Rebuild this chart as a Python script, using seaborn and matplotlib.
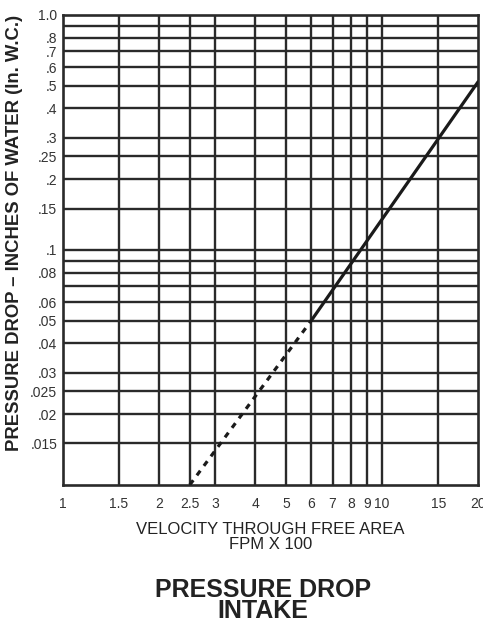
import numpy as np
import pandas as pd
import matplotlib.pyplot as plt
import seaborn as sns

# values
x_ticks = [1, 1.5, 2, 2.5, 3, 4, 5, 6, 7, 8, 9, 10, 15, 20]
x_labels = ["1", "1.5", "2", "2.5", "3", "4", "5", "6", "7", "8", "9", "10", "15", "20"]
y_grid = [0.015, 0.02, 0.025, 0.03, 0.04, 0.05, 0.06, 0.07, 0.08, 0.09, 0.1,
          0.15, 0.2, 0.25, 0.3, 0.4, 0.5, 0.6, 0.7, 0.8, 0.9, 1.0]
y_labels = {0.015: ".015", 0.02: ".02", 0.025: ".025", 0.03: ".03", 0.04: ".04",
            0.05: ".05", 0.06: ".06", 0.08: ".08", 0.1: ".1", 0.15: ".15",
            0.2: ".2", 0.25: ".25", 0.3: ".3", 0.4: ".4", 0.5: ".5", 0.6: ".6",
            0.7: ".7", 0.8: ".8", 1.0: "1.0"}

# extrapolated (dashed) part and measured (solid) part of the curve
dash_x = [2.5, 6]
dash_y = [0.01, 0.05]
solid_x = [6, 20]
solid_y = [0.05, 0.52]

sns.set_style("white")
plt.rcParams['font.family'] = ['Liberation Sans', 'DejaVu Sans']

fig = plt.figure(figsize=(4.83, 6.24), dpi=100)
ax = fig.add_axes([0.130, 0.223, 0.860, 0.753])

df_dash = pd.DataFrame({"v": dash_x, "p": dash_y})
df_solid = pd.DataFrame({"v": solid_x, "p": solid_y})
sns.lineplot(data=df_dash, x="v", y="p", ax=ax, color="#1a1a1a", lw=2.3,
             linestyle=(0, (1.8, 1.9)), zorder=3)
sns.lineplot(data=df_solid, x="v", y="p", ax=ax, color="#1a1a1a", lw=2.3, zorder=3)

ax.set_xscale("log")
ax.set_yscale("log")
ax.set_xlim(1, 20)
ax.set_ylim(0.01, 1.0)

for xv in x_ticks[1:-1]:
    ax.axvline(xv, color="#2a2a2a", lw=1.7, zorder=1)
for yv in y_grid[:-1]:
    ax.axhline(yv, color="#2a2a2a", lw=1.7, zorder=1)

ax.xaxis.set_minor_locator(plt.NullLocator())
ax.yaxis.set_minor_locator(plt.NullLocator())
ax.set_xticks(x_ticks)
ax.set_xticklabels(x_labels)
ax.set_yticks(list(y_labels.keys()))
ax.set_yticklabels(list(y_labels.values()))
ax.tick_params(axis="both", length=0, labelsize=10, colors="#333333")
ax.tick_params(axis="x", pad=9)
ax.tick_params(axis="y", pad=4)

for s in ax.spines.values():
    s.set_color("#2a2a2a")
    s.set_linewidth(1.9)

ax.set_xlabel("VELOCITY THROUGH FREE AREA\nFPM X 100", fontsize=12, color="#222222",
              linespacing=1.0, labelpad=8)
ax.set_ylabel("PRESSURE DROP – INCHES OF WATER (In. W.C.)", fontsize=13.3,
              fontweight="bold", color="#222222")
ax.yaxis.set_label_coords(-0.095, 0.537)

fig.text(0.545, 0.002, "PRESSURE DROP\nINTAKE", ha="center", va="bottom",
         fontsize=18, fontweight="bold", color="#222222", linespacing=0.85)

fig.savefig("out.png", dpi=100)
